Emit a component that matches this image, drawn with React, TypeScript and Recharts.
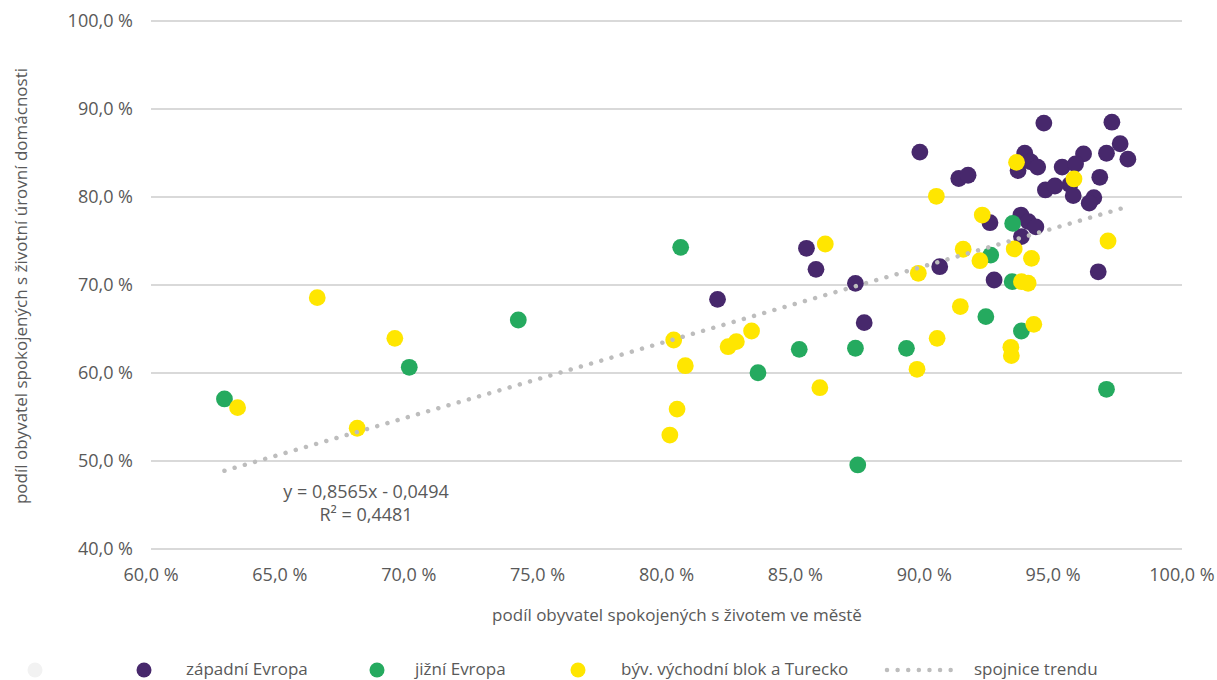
import React from 'react';
import { ScatterChart, Scatter, XAxis, YAxis, CartesianGrid } from 'recharts';

// [podíl spokojených s životem ve městě (%), podíl spokojených s životní úrovní domácnosti (%)]
const westernEurope: [number, number][] = [
  [89.83, 85.1], [94.64, 88.4], [97.28, 88.5], [97.6, 86.05], [97.9, 84.3],
  [96.18, 84.9], [97.07, 84.97], [93.9, 84.97], [94.13, 84.0], [94.4, 83.4],
  [93.64, 83.0], [95.35, 83.4], [95.87, 83.75], [96.81, 82.24], [95.65, 81.4],
  [94.7, 80.8], [95.07, 81.25], [95.78, 80.15], [96.58, 79.93], [96.4, 79.3],
  [91.34, 82.1], [91.7, 82.47], [92.55, 77.08], [93.75, 77.95], [94.04, 77.2],
  [94.33, 76.6], [93.77, 75.5], [90.6, 72.08], [96.75, 71.5], [92.71, 70.57],
  [85.43, 74.17], [85.8, 71.78], [87.33, 70.19], [81.98, 68.37], [87.67, 65.72],
];

const southernEurope: [number, number][] = [
  [80.55, 74.28], [74.25, 66.02], [70.02, 60.65], [62.85, 57.05], [85.15, 62.69],
  [87.33, 62.81], [83.55, 60.03], [87.42, 49.55], [89.31, 62.8], [92.39, 66.4],
  [93.77, 64.77], [97.07, 58.15], [93.43, 77.0], [92.58, 73.4], [93.41, 70.38],
];

const easternBlocTurkey: [number, number][] = [
  [66.45, 68.56], [69.46, 63.94], [63.36, 56.06], [68.0, 53.72], [80.28, 63.75],
  [80.73, 60.83], [80.41, 55.9], [80.13, 52.95], [82.39, 62.99], [82.71, 63.56],
  [83.3, 64.77], [86.16, 74.66], [85.95, 58.33], [89.72, 60.42], [90.5, 63.94],
  [91.4, 67.55], [93.36, 62.92], [93.38, 61.97], [94.25, 65.53], [89.77, 71.33],
  [91.51, 74.06], [92.16, 72.76], [93.49, 74.1], [94.16, 73.03], [93.77, 70.38],
  [94.03, 70.2], [92.25, 77.95], [90.47, 80.08], [93.58, 83.94], [95.81, 82.05],
  [97.13, 75.0],
];

const xTicks = [60, 65, 70, 75, 80, 85, 90, 95, 100];
const yTicks = [40, 50, 60, 70, 80, 90, 100];

const trendSlope = 0.8565;
const trendIntercept = -0.0494;
const trendLabel = 'y = 0,8565x - 0,0494';
const r2Label = 'R² = 0,4481';

const seriesNames = ['', 'západní Evropa', 'jižní Evropa', 'býv. východní blok a Turecko', 'spojnice trendu'];

const PURPLE = '#47286c';
const GREEN = '#25aa5f';
const YELLOW = '#ffe600';
const TREND = '#bdbdbd';
const TEXT = '#595959';
const FONT = "'Open Sans', 'DejaVu Sans', sans-serif";

const toPoints = (arr: [number, number][]) => arr.map(([x, y]) => ({ x, y }));

const allX = [...westernEurope, ...southernEurope, ...easternBlocTurkey].map((p) => p[0]);
const xMin = Math.min(...allX);
const xMax = Math.max(...allX);
const trendData = [xMin, xMax].map((x) => ({ x, y: (trendSlope * (x / 100) + trendIntercept) * 100 }));

const fmt = (v: number) => v.toFixed(1).replace('.', ',') + ' %';

const dot = (color: string) => (props: any) => (
  <circle cx={props.cx} cy={props.cy} r={8.4} fill={color} />
);

const Legend = () => {
  const cy = 668;
  return (
    <svg width={1217} height={680} style={{ position: 'absolute', left: 0, top: 0, pointerEvents: 'none' }}>
      <circle cx={35} cy={cy + 2} r={7.5} fill="#f2f2f2" />
      <circle cx={144} cy={cy + 2} r={7.5} fill={PURPLE} />
      <text x={186} y={cy} dominantBaseline="central" fontSize={17} fill={TEXT} fontFamily={FONT}>{seriesNames[1]}</text>
      <circle cx={377} cy={cy + 2} r={7.5} fill={GREEN} />
      <text x={415} y={cy} dominantBaseline="central" fontSize={17} fill={TEXT} fontFamily={FONT}>{seriesNames[2]}</text>
      <circle cx={578} cy={cy + 2} r={7.5} fill={YELLOW} />
      <text x={621} y={cy} dominantBaseline="central" fontSize={17} fill={TEXT} fontFamily={FONT}>{seriesNames[3]}</text>
      <line x1={887} y1={cy + 2} x2={951} y2={cy + 2} stroke={TREND} strokeWidth={4.5} strokeDasharray="0.01 10.6" strokeLinecap="round" />
      <text x={974} y={cy} dominantBaseline="central" fontSize={17} fill={TEXT} fontFamily={FONT}>{seriesNames[4]}</text>
      <text x={366} y={491} textAnchor="middle" dominantBaseline="central" fontSize={18} fill={TEXT} fontFamily={FONT}>{trendLabel}</text>
      <text x={366} y={514} textAnchor="middle" dominantBaseline="central" fontSize={18} fill={TEXT} fontFamily={FONT}>{r2Label}</text>
    </svg>
  );
};

export default function App() {
  return (
    <div style={{ position: 'absolute', left: 0, top: 0, width: 1217, height: 680, background: '#fff' }}>
      <ScatterChart width={1217} height={680} margin={{ top: 21, right: 35, bottom: 0, left: 0 }}>
        <CartesianGrid horizontal vertical={false} stroke="#d9d9d9" strokeWidth={2} />
        <XAxis
          type="number"
          dataKey="x"
          domain={[60, 100]}
          ticks={xTicks}
          tickFormatter={fmt}
          axisLine={false}
          tickLine={false}
          tickSize={0}
          tickMargin={19}
          height={131}
          interval={0}
          tick={{ fill: TEXT, fontSize: 18, fontFamily: FONT }}
          label={{
            content: () => (
              <text x={677} y={614} textAnchor="middle" dominantBaseline="central" fontSize={17} fill={TEXT} fontFamily={FONT}>
                podíl obyvatel spokojených s životem ve městě
              </text>
            ),
          }}
        />
        <YAxis
          type="number"
          dataKey="y"
          domain={[40, 100]}
          ticks={yTicks}
          tickFormatter={fmt}
          axisLine={false}
          tickLine={false}
          tickSize={0}
          tickMargin={18}
          width={151}
          interval={0}
          tick={{ fill: TEXT, fontSize: 18, fontFamily: FONT }}
          label={{
            content: () => (
              <text x={20} y={286} transform="rotate(-90 20 286)" textAnchor="middle" dominantBaseline="central" fontSize={17} fill={TEXT} fontFamily={FONT}>
                podíl obyvatel spokojených s životní úrovní domácnosti
              </text>
            ),
          }}
        />
        <Scatter name={seriesNames[1]} data={toPoints(westernEurope)} fill={PURPLE} shape={dot(PURPLE)} isAnimationActive={false} />
        <Scatter name={seriesNames[2]} data={toPoints(southernEurope)} fill={GREEN} shape={dot(GREEN)} isAnimationActive={false} />
        <Scatter name={seriesNames[3]} data={toPoints(easternBlocTurkey)} fill={YELLOW} shape={dot(YELLOW)} isAnimationActive={false} />
        <Scatter
          name={seriesNames[4]}
          data={trendData}
          fill={TREND}
          line={{ stroke: TREND, strokeWidth: 4.5, strokeDasharray: '0.01 10.6', strokeLinecap: 'round' }}
          shape={() => <g />}
          isAnimationActive={false}
        />
      </ScatterChart>
      <Legend />
    </div>
  );
}
